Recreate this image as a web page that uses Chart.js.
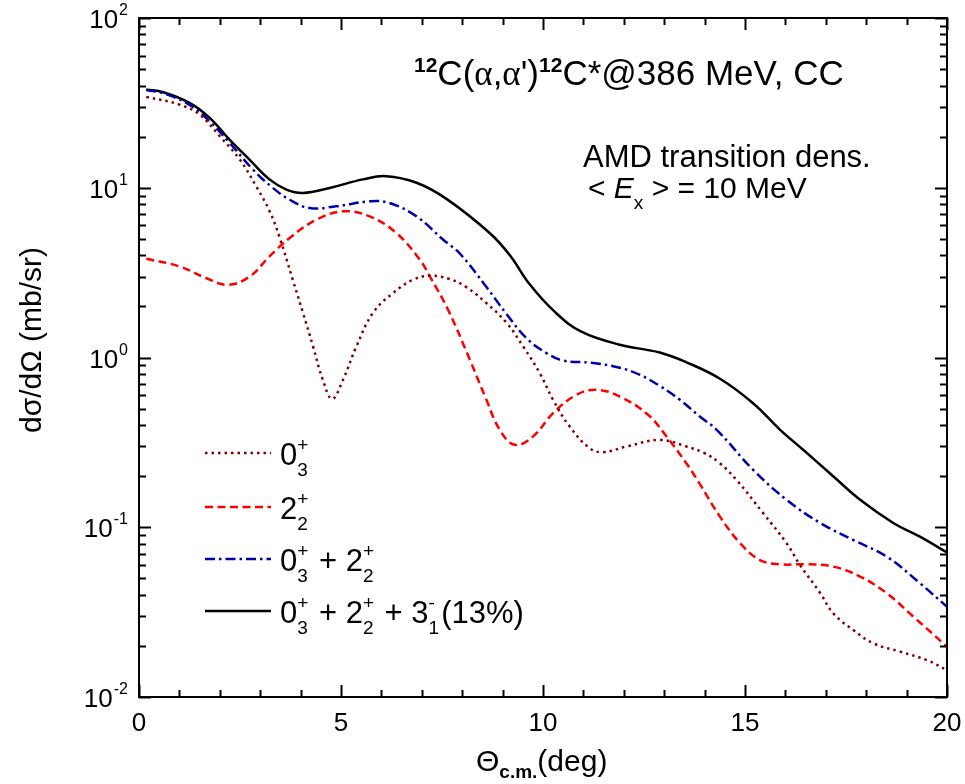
<!DOCTYPE html>
<html>
<head>
<meta charset="utf-8">
<script src="https://cdn.jsdelivr.net/npm/chart.js@4.4.1/dist/chart.umd.min.js"></script>
<style>
  html, body { margin: 0; padding: 0; background: #ffffff; }
  #wrap { width: 965px; height: 784px; }
</style>
</head>
<body>
<div id="wrap"><canvas id="xsChart" width="965" height="784"></canvas></div>
<script>
// digitised cross sections, theta in deg, sigma in mb/sr
const thetaDot = [0.18, 1.0, 1.5, 2.0, 2.5, 2.9, 3.23, 3.48, 3.81, 4.06, 4.31, 4.55, 4.78, 5.05, 5.38, 5.79, 6.29, 6.78, 7.2, 7.69, 8.1, 8.6, 9.1, 9.51, 9.92, 10.25, 10.66, 11.16, 11.49, 12.07, 12.9, 13.55, 14.0, 14.38, 14.79, 15.45, 16.03, 16.36, 16.86, 17.19, 17.68, 18.18, 18.84, 19.5, 20.0];
const sigmaDot = [34.3, 30.9, 27.0, 20.1, 14.6, 10.2, 7.3, 5.1, 2.85, 1.83, 1.16, 0.74, 0.571, 0.74, 1.16, 1.83, 2.40, 2.87, 3.03, 2.90, 2.6, 2.09, 1.60, 1.16, 0.809, 0.563, 0.392, 0.292, 0.277, 0.299, 0.327, 0.299, 0.273, 0.238, 0.190, 0.121, 0.0805, 0.060, 0.041, 0.031, 0.0248, 0.0207, 0.0185, 0.0165, 0.0144];

const thetaDash = [0.18, 1.0, 1.66, 2.2, 2.74, 3.23, 3.73, 4.39, 5.05, 5.71, 6.37, 6.95, 7.2, 7.65, 8.19, 8.6, 8.93, 9.3, 9.75, 10.25, 10.83, 11.33, 11.9, 12.6, 13.06, 13.55, 13.88, 14.38, 14.88, 15.37, 15.87, 16.53, 17.19, 17.85, 18.51, 19.17, 20.0];
const sigmaDash = [3.82, 3.44, 2.94, 2.68, 3.00, 3.94, 5.06, 6.48, 7.26, 6.78, 5.41, 3.77, 3.0, 1.91, 0.969, 0.563, 0.375, 0.306, 0.342, 0.470, 0.603, 0.645, 0.589, 0.46, 0.342, 0.238, 0.180, 0.1155, 0.0805, 0.0641, 0.0605, 0.0605, 0.0586, 0.0512, 0.0408, 0.0297, 0.0198];

const thetaSum = [0.18, 0.6, 1.25, 1.75, 2.24, 2.82, 3.31, 3.73, 4.22, 4.88, 5.71, 6.2, 6.87, 7.53, 7.94, 8.6, 9.1, 9.59, 10.09, 10.5, 11.2, 11.9, 12.4, 12.89, 13.39, 13.88, 14.3, 15.2, 16.03, 16.86, 17.68, 18.51, 19.33, 20.0];
const sigmaSum = [37.6, 36.0, 30.8, 24.6, 18.4, 12.8, 10.0, 8.5, 7.6, 7.77, 8.32, 8.13, 6.78, 4.94, 4.1, 2.6, 1.8, 1.3, 1.06, 0.96, 0.93, 0.87, 0.79, 0.68, 0.563, 0.449, 0.375, 0.218, 0.145, 0.106, 0.0841, 0.0671, 0.0468, 0.034];

const thetaTot = [0.18, 0.6, 1.25, 1.75, 2.24, 2.74, 3.23, 3.65, 4.06, 4.72, 5.54, 6.12, 6.87, 7.61, 8.68, 9.18, 9.67, 10.3, 10.95, 11.9, 12.89, 13.55, 14.38, 15.2, 15.87, 16.44, 17.19, 17.85, 18.67, 19.33, 20.0];
const sigmaTot = [37.9, 36.5, 31.6, 25.8, 19.2, 14.6, 11.2, 9.75, 9.31, 9.97, 11.2, 11.7, 10.7, 8.6, 5.41, 4.0, 2.7, 1.85, 1.42, 1.19, 1.07, 0.937, 0.75, 0.538, 0.375, 0.286, 0.199, 0.145, 0.106, 0.088, 0.071];

const xTicks = [0, 5, 10, 15, 20];
const yDecades = [-2, -1, 0, 1, 2];

const FONT = "'Liberation Sans', Arial, sans-serif";
const SERIF = "'Liberation Serif', 'Times New Roman', serif";

function pts(xs, ys) {
  return xs.map((x, i) => ({ x: x, y: ys[i] }));
}

// draws a run of text pieces, each with own size / offset; sup+sub can be stacked
function richText(ctx, x, y, runs) {
  runs.forEach(r => {
    if (r.sup !== undefined || r.sub !== undefined) {
      ctx.font = `${r.size}px ${FONT}`;
      let w = 0;
      if (r.sup) { ctx.fillText(r.sup, x, y + r.supDy); w = Math.max(w, ctx.measureText(r.sup).width); }
      if (r.sub) { ctx.fillText(r.sub, x, y + r.subDy); w = Math.max(w, ctx.measureText(r.sub).width); }
      x += w + (r.gap || 0);
    } else {
      ctx.font = `${r.style || ''} ${r.size}px ${r.family || FONT}`;
      ctx.fillText(r.t, x, y + (r.dy || 0));
      x += ctx.measureText(r.t).width;
    }
  });
  return x;
}

function st(sup, sub) {
  return { sup: sup, sub: sub, size: 19, supDy: -14, subDy: 11, gap: 2 };
}

const LS = 31;
const legendItems = [
  { color: '#800000', dash: [2.5, 4], runs: [{ t: '0', size: LS }, st('+', '3')] },
  { color: '#ff0000', dash: [8, 4.5], runs: [{ t: '2', size: LS }, st('+', '2')] },
  { color: '#0000aa', dash: [10, 4, 2.5, 4], runs: [{ t: '0', size: LS }, st('+', '3'), { t: ' + 2', size: LS }, st('+', '2')] },
  { color: '#000000', dash: [], runs: [{ t: '0', size: LS }, st('+', '3'), { t: ' + 2', size: LS }, st('+', '2'), { t: ' + 3', size: LS }, st('-', '1'), { t: '(13%)', size: LS }] }
];

const framePlugin = {
  id: 'frame',
  afterDraw(chart) {
    const ctx = chart.ctx;
    const a = chart.chartArea;
    const xs = chart.scales.x;
    const ys = chart.scales.y;
    ctx.save();
    ctx.strokeStyle = '#000';
    ctx.fillStyle = '#000';
    ctx.lineWidth = 2;
    ctx.setLineDash([]);
    ctx.strokeRect(a.left, a.top, a.right - a.left, a.bottom - a.top);

    // x ticks, inward on top and bottom
    ctx.beginPath();
    for (let v = 0; v <= 20; v++) {
      const px = Math.round(xs.getPixelForValue(v)) + 0.5;
      const len = v % 5 === 0 ? 12 : 7;
      ctx.moveTo(px, a.bottom); ctx.lineTo(px, a.bottom - len);
      ctx.moveTo(px, a.top); ctx.lineTo(px, a.top + len);
    }
    // y ticks, inward on left and right
    for (let d = -2; d <= 2; d++) {
      for (let k = 1; k <= 9; k++) {
        if (d === 2 && k > 1) break;
        const v = k * Math.pow(10, d);
        const py = Math.round(ys.getPixelForValue(v)) + 0.5;
        const len = k === 1 ? 12 : 7;
        ctx.moveTo(a.left, py); ctx.lineTo(a.left + len, py);
        ctx.moveTo(a.right, py); ctx.lineTo(a.right - len, py);
      }
    }
    ctx.stroke();

    // tick labels
    ctx.textBaseline = 'alphabetic';
    ctx.textAlign = 'center';
    ctx.font = `26px ${FONT}`;
    xTicks.forEach(v => {
      ctx.fillText(String(v), xs.getPixelForValue(v), a.bottom + 34);
    });
    ctx.textAlign = 'left';
    yDecades.forEach(d => {
      const py = ys.getPixelForValue(Math.pow(10, d));
      ctx.font = `16px ${FONT}`;
      const ew = ctx.measureText(String(d)).width;
      ctx.font = `26px ${FONT}`;
      const bw = ctx.measureText('10').width;
      const x0 = a.left - 12 - ew - bw;
      ctx.fillText('10', x0, py + 10);
      ctx.font = `16px ${FONT}`;
      ctx.fillText(String(d), x0 + bw + 1, py - 3);
    });

    // axis titles
    ctx.save();
    ctx.translate(41, 340);
    ctx.rotate(-Math.PI / 2);
    ctx.textAlign = 'center';
    ctx.font = `30px ${FONT}`;
    ctx.fillText('d\u03c3/d\u03a9 (mb/sr)', 0, 0);
    ctx.restore();

    ctx.textAlign = 'left';
    richText(ctx, 476, 771, [
      { t: '\u0398', size: 30 },
      { t: 'c.m.', size: 19, dy: 7, style: 'bold' },
      { t: '(deg)', size: 30 }
    ]);

    // reaction title
    richText(ctx, 414, 85, [
      { t: '12', size: 21, dy: -13, style: 'bold' },
      { t: 'C(', size: 35 },
      { t: '\u03b1', size: 35, family: SERIF },
      { t: ',', size: 35 },
      { t: '\u03b1', size: 35, family: SERIF },
      { t: "')", size: 35 },
      { t: '12', size: 21, dy: -13, style: 'bold' },
      { t: 'C*@386 MeV, CC', size: 35 }
    ]);

    richText(ctx, 583, 167, [{ t: 'AMD transition dens.', size: 31 }]);
    richText(ctx, 588, 198, [
      { t: '< ', size: 30 },
      { t: 'E', size: 30, style: 'italic' },
      { t: 'x', size: 19, dy: 11 },
      { t: ' > = 10 MeV', size: 30 }
    ]);

    // legend
    const rowY = [453, 507, 559, 611];
    legendItems.forEach((it, i) => {
      const y = rowY[i];
      ctx.strokeStyle = it.color;
      ctx.lineWidth = 2.5;
      ctx.setLineDash(it.dash);
      ctx.beginPath();
      ctx.moveTo(205, y); ctx.lineTo(271, y);
      ctx.stroke();
      ctx.setLineDash([]);
      ctx.fillStyle = '#000';
      richText(ctx, 280, y + 12, it.runs);
    });
    ctx.restore();
  }
};

const ctx = document.getElementById('xsChart').getContext('2d');
new Chart(ctx, {
  type: 'line',
  data: {
    datasets: [
      { label: '0+3', data: pts(thetaDot, sigmaDot), borderColor: '#800000', borderDash: [2.5, 4], borderWidth: 2.5 },
      { label: '2+2', data: pts(thetaDash, sigmaDash), borderColor: '#ff0000', borderDash: [8, 4.5], borderWidth: 2.5 },
      { label: '0+3 + 2+2', data: pts(thetaSum, sigmaSum), borderColor: '#0000aa', borderDash: [10, 4, 2.5, 4], borderWidth: 2.5 },
      { label: 'total', data: pts(thetaTot, sigmaTot), borderColor: '#000000', borderWidth: 2.5 }
    ]
  },
  options: {
    responsive: false,
    animation: false,
    devicePixelRatio: 1,
    layout: { padding: { top: 18, right: 18, left: 0, bottom: 0 } },
    elements: {
      point: { radius: 0 },
      line: { tension: 0.4, fill: false }
    },
    plugins: { legend: { display: false }, tooltip: { enabled: false } },
    scales: {
      x: {
        type: 'linear', min: 0, max: 20,
        ticks: { display: false },
        grid: { display: false },
        border: { display: false },
        afterFit: s => { s.height = 87; }
      },
      y: {
        type: 'logarithmic', min: 0.01, max: 100,
        ticks: { display: false },
        grid: { display: false },
        border: { display: false },
        afterFit: s => { s.width = 139; }
      }
    }
  },
  plugins: [framePlugin]
});
</script>
</body>
</html>
